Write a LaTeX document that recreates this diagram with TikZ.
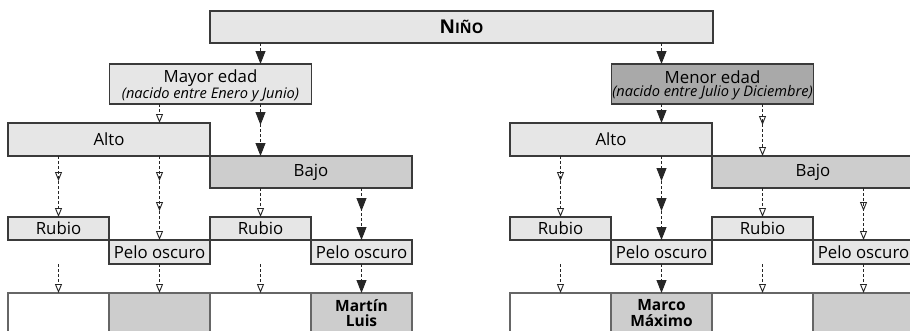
\documentclass[tikz,border=0pt]{standalone}
\usepackage{fontspec}
\setmainfont{Open Sans}
\usetikzlibrary{arrows.meta,decorations.markings}

\definecolor{lightGrey}{HTML}{E6E6E6}
\definecolor{midGrey}{HTML}{CDCDCD}
\definecolor{darkGrey}{HTML}{A9A9A9}
\definecolor{lineGrey}{HTML}{3A3A3A}

\begin{document}
\begin{tikzpicture}[x=1pt, y=-1pt,
    boxStyle/.style={rectangle, draw=lineGrey, line width=1.1pt, fill=lightGrey, inner sep=0pt, outer sep=0pt, align=center, font=\fontsize{16.8}{13}\selectfont},
    halfStyle/.style={boxStyle, minimum width=101pt},
    endStyle/.style={boxStyle, draw=black!60, fill=white, minimum width=101pt, minimum height=40pt, font=\bfseries\fontsize{15.5}{15.5}\selectfont},
    fullArrow/.style={draw=black!85, line width=0.9pt, dash pattern=on 3pt off 2pt, -{Triangle[length=13pt, width=10pt]}},
    openArrow/.style={draw=black!85, line width=0.9pt, dash pattern=on 3pt off 2pt, -{Triangle[open, length=9pt, width=7pt]}},
    midFull/.style={postaction={decorate, decoration={markings, mark=at position #1 with {\arrow{Triangle[length=13pt, width=10pt]}}}}},
    midOpen/.style={postaction={decorate, decoration={markings, mark=at position #1 with {\arrow{Triangle[open, length=9pt, width=7pt]}}}}}]
    \useasboundingbox (0, 0) rectangle (910, 330);
    \clip (0, 0) rectangle (910, 330);

    % columns
    \coordinate (colL1) at ( 58.5, 0);
    \coordinate (colL2) at (159.5, 0);
    \coordinate (colL3) at (260.5, 0);
    \coordinate (colL4) at (361.5, 0);
    \coordinate (colR1) at ( 58.5 + 502, 0);
    \coordinate (colR2) at (159.5 + 502, 0);
    \coordinate (colR3) at (260.5 + 502, 0);
    \coordinate (colR4) at (361.5 + 502, 0);

    \node[boxStyle, minimum width=503pt, minimum height=32pt] (nino) at (461.5, 27) {\bfseries\fontsize{19}{13}\selectfont N\fontsize{14.5}{13}\selectfont IÑO};
    \node[boxStyle, minimum width=202pt, minimum height=40pt] (mayor) at (210.5, 84) {\rule{0pt}{16pt}Mayor edad\\{\itshape\fontsize{14.6}{13}\selectfont (nacido entre Enero y Junio)}};
    \node[boxStyle, fill=darkGrey, minimum width=202pt, minimum height=40pt] (menor) at (712.5, 84) {\rule{0pt}{16pt}Menor edad\\{\itshape\fontsize{14.6}{13}\selectfont (nacido entre Julio y Diciembre)}};

    % left half
    \node[boxStyle, minimum width=202pt, minimum height=33pt] (alto_L) at (109, 139.5) {Alto};
    \node[boxStyle, fill=midGrey, minimum width=202pt, minimum height=32pt] (bajo_L) at (311, 172) {Bajo};
    \node[halfStyle, minimum height=23pt] (rubio_L1) at ( 58.5, 228.5) {Rubio};
    \node[halfStyle, minimum height=24pt] (pelo_L1)  at (159.5, 252) {Pelo oscuro};
    \node[halfStyle, minimum height=23pt] (rubio_L2) at (260.5, 228.5) {Rubio};
    \node[halfStyle, minimum height=24pt] (pelo_L2)  at (361.5, 252) {Pelo oscuro};
    \node[endStyle] (end_L1) at ( 58.5, 313) {};
    \node[endStyle, fill=midGrey] (end_L2) at (159.5, 313) {};
    \node[endStyle] (end_L3) at (260.5, 313) {};
    \node[endStyle, fill=midGrey] (end_L4) at (361.5, 313) {Martín\\Luis};

    % right half
    \node[boxStyle, minimum width=202pt, minimum height=33pt] (alto_R) at (109 + 502, 139.5) {Alto};
    \node[boxStyle, fill=midGrey, minimum width=202pt, minimum height=32pt] (bajo_R) at (311 + 502, 172) {Bajo};
    \node[halfStyle, minimum height=23pt] (rubio_R1) at ( 58.5 + 502, 228.5) {Rubio};
    \node[halfStyle, minimum height=24pt] (pelo_R1)  at (159.5 + 502, 252) {Pelo oscuro};
    \node[halfStyle, minimum height=23pt] (rubio_R2) at (260.5 + 502, 228.5) {Rubio};
    \node[halfStyle, minimum height=24pt] (pelo_R2)  at (361.5 + 502, 252) {Pelo oscuro};
    \node[endStyle] (end_R1) at ( 58.5 + 502, 313) {};
    \node[endStyle, fill=midGrey] (end_R2) at (159.5 + 502, 313) {Marco\\Máximo};
    \node[endStyle] (end_R3) at (260.5 + 502, 313) {};
    \node[endStyle, fill=midGrey] (end_R4) at (361.5 + 502, 313) {};

    % arrows left
    \draw[fullArrow] (nino.south -| colL3) -- (mayor.north -| colL3);
    \draw[openArrow] (mayor.south -| colL2) -- (alto_L.north -| colL2);
    \draw[fullArrow, midFull=21pt] (mayor.south -| colL3) -- (bajo_L.north -| colL3);
    \draw[openArrow, midOpen=25pt] (alto_L.south -| colL1) -- (rubio_L1.north -| colL1);
    \draw[openArrow, midOpen=25pt, midOpen=55pt] (alto_L.south -| colL2) -- (pelo_L1.north -| colL2);
    \draw[openArrow] (bajo_L.south -| colL3) -- (rubio_L2.north -| colL3);
    \draw[fullArrow, midFull=23pt] (bajo_L.south -| colL4) -- (pelo_L2.north -| colL4);
    \draw[openArrow] (pelo_L1.south -| colL1) -- (end_L1.north -| colL1);
    \draw[openArrow] (pelo_L1.south -| colL2) -- (end_L2.north -| colL2);
    \draw[openArrow] (pelo_L2.south -| colL3) -- (end_L3.north -| colL3);
    \draw[fullArrow] (pelo_L2.south -| colL4) -- (end_L4.north -| colL4);

    % arrows right
    \draw[fullArrow] (nino.south -| colR2) -- (menor.north -| colR2);
    \draw[fullArrow] (menor.south -| colR2) -- (alto_R.north -| colR2);
    \draw[openArrow, midOpen=21pt] (menor.south -| colR3) -- (bajo_R.north -| colR3);
    \draw[openArrow, midOpen=25pt] (alto_R.south -| colR1) -- (rubio_R1.north -| colR1);
    \draw[fullArrow, midFull=25pt, midFull=55pt] (alto_R.south -| colR2) -- (pelo_R1.north -| colR2);
    \draw[openArrow] (bajo_R.south -| colR3) -- (rubio_R2.north -| colR3);
    \draw[openArrow, midOpen=23pt] (bajo_R.south -| colR4) -- (pelo_R2.north -| colR4);
    \draw[openArrow] (pelo_R1.south -| colR1) -- (end_R1.north -| colR1);
    \draw[fullArrow] (pelo_R1.south -| colR2) -- (end_R2.north -| colR2);
    \draw[openArrow] (pelo_R2.south -| colR3) -- (end_R3.north -| colR3);
    \draw[openArrow] (pelo_R2.south -| colR4) -- (end_R4.north -| colR4);
\end{tikzpicture}
\end{document}
